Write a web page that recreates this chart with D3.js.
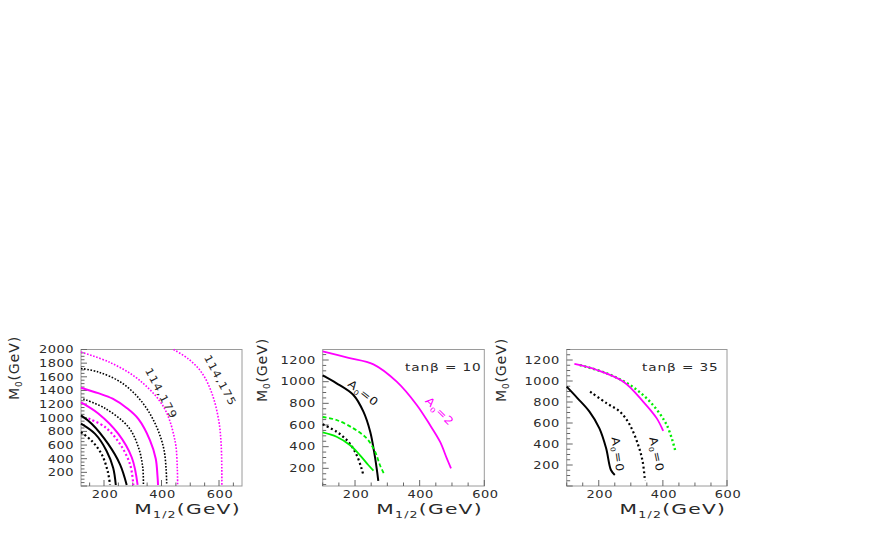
<!DOCTYPE html>
<html><head><meta charset="utf-8">
<script src="https://cdn.jsdelivr.net/npm/d3@7"></script>
<style>body{margin:0;background:#fff}svg{display:block}text{font-family:"DejaVu Sans",sans-serif;fill:#2a2a2a}</style>
</head><body><svg id="c" width="872" height="545"></svg>
<script>
// ---------- data ----------
const xTicks = [200, 400, 600];
const yTicks1 = [200,400,600,800,1000,1200,1400,1600,1800,2000];
const yTicks23 = [200,400,600,800,1000,1200];

// panel 1 contours [M1/2, M0]
const p1_a = [[120,788],[157,663],[192,464],[213,214],[221,15]];
const p1_b = [[120,913],[169,763],[209,514],[232,264],[241,15]];
const p1_c = [[120,1035],[157,913],[215,613],[256,314],[279,15]];
const p1_d = [[146,988],[204,863],[256,613],[291,314],[302,15]];
const p1_e = [[120,1225],[180,1062],[250,763],[297,414],[317,15]];
const p1_f = [[128,1275],[204,1137],[285,863],[320,564],[335,264],[337,15]];
const p1_g = [[120,1440],[180,1360],[230,1280],[280,1140],[320,980],[360,670],[380,400],[386,150],[388,15]];
const p1_h = [[120,1722],[180,1671],[262,1511],[331,1237],[378,913],[407,564],[416,250],[418,15]];
const p1_i = [[120,1962],[221,1810],[320,1561],[407,1162],[447,663],[455,250],[456,15]];
const p1_j = [[442,2000],[494,1860],[540,1661],[575,1362],[599,963],[608,564],[610,15]];

// panel 2 (tan beta = 10)
const p2_mag = [[100,1280],[180,1220],[257,1160],[329,1000],[391,785],[432,600],[463,446],[484,292],[497,200]];
const p2_blk = [[100,1058],[143,985],[195,877],[226,723],[247,538],[259,354],[267,200],[272,85]];
const p2_grnDash = [[100,674],[143,646],[195,569],[236,477],[262,354],[277,231],[291,140]];
const p2_blkDot = [[100,606],[143,538],[179,446],[205,323],[220,200],[226,135]];
const p2_grn = [[100,532],[143,492],[184,415],[215,323],[241,231],[257,180]];

// panel 3 (tan beta = 35)
const p3_mag = [[124,1162],[194,1105],[277,993],[339,802],[381,644],[401,524]];
const p3_grnDot = [[141,1152],[225,1073],[297,962],[360,802],[412,581],[438,343]];
const p3_blk = [[100,946],[134,835],[171,708],[202,549],[223,359],[238,152],[250,105]];
const p3_blkDot = [[173,898],[225,787],[266,708],[297,581],[323,390],[337,231],[344,50]];

// ---------- drawing ----------
const svg = d3.select("#c");
const MAG = "#ff00ff", GRN = "#00ee00", BLK = "#000";
const SX = 1.3;

const panels = [
  {l:81, r:242, t:349.5, b:486, xd:[120,680], yd:[0,2000], yt:yTicks1, title:{x:14, y:368}},
  {l:322.7, r:484.3, t:349.5, b:486, xd:[100,600], yd:[37,1297], yt:yTicks23, title:{x:262, y:370}},
  {l:566.7, r:727, t:349.5, b:486, xd:[100,600], yd:[0,1300], yt:yTicks23, title:{x:501, y:370}}
];

function wide(x, y, rot, sx) {
  return svg.append("g").attr("transform", `translate(${x},${y}) rotate(${rot||0}) scale(${sx||SX},1)`);
}
function subText(x, y, main, sub, rest, size, rot, sx, color) {
  const t = wide(x, y, rot, sx).append("text").attr("text-anchor", "middle")
    .attr("font-size", size).attr("letter-spacing", size*0.06);
  if (color) t.style("fill", color);
  t.append("tspan").text(main);
  t.append("tspan").attr("font-size", size*0.62).attr("dy", size*0.25).text(sub);
  t.append("tspan").attr("dy", -size*0.25).text(rest);
  return t;
}

panels.forEach(p => {
  p.x = d3.scaleLinear().domain(p.xd).range([p.l, p.r]);
  p.y = d3.scaleLinear().domain(p.yd).range([p.b, p.t]);
  const g = svg.append("g");
  g.append("rect").attr("x", p.l).attr("y", p.t).attr("width", p.r-p.l).attr("height", p.b-p.t)
    .attr("fill", "none").attr("stroke", "#9a9a9a").attr("stroke-width", 1);
  const xminor = d3.range(Math.ceil(p.xd[0]/50)*50, p.xd[1]+1, 50);
  g.selectAll(null).data(xminor).join("line")
    .attr("x1", d=>p.x(d)).attr("x2", d=>p.x(d))
    .attr("y1", p.b).attr("y2", d => p.b - (d%200===0 ? 6 : 3.5))
    .attr("stroke", "#666");
  const yminor = d3.range(Math.ceil(p.yd[0]/50)*50, p.yd[1]+1, 50);
  g.selectAll(null).data(yminor).join("line")
    .attr("y1", d=>p.y(d)).attr("y2", d=>p.y(d))
    .attr("x1", p.l).attr("x2", d => p.l + (d%200===0 ? 6 : 3.5))
    .attr("stroke", "#666");
  xTicks.forEach(d => {
    wide(p.x(d)+1, p.b+11.5).append("text").attr("text-anchor","middle")
      .attr("font-size", 10).attr("letter-spacing", 0.4).text(d);
  });
  p.yt.forEach(d => {
    wide(p.l-7, p.y(d)+3.8).append("text").attr("text-anchor","end")
      .attr("font-size", 10).attr("letter-spacing", 0.4).text(d);
  });
  subText((p.l+p.r)/2+26, 514, "M", "1/2", "(GeV)", 14.5, 0, 1.4);
  subText(p.title.x+5, p.title.y, "M", "0", "(GeV)", 13.5, -90, 1.05);
});

function draw(p, data, color, dash, width, curve) {
  const line = d3.line().x(d=>p.x(d[0])).y(d=>p.y(d[1])).curve(curve || d3.curveCatmullRom.alpha(0.5));
  svg.append("path").datum(data).attr("d", line).attr("fill","none")
    .attr("stroke", color).attr("stroke-width", width)
    .attr("stroke-dasharray", dash || null);
}
const P1 = panels[0], P2 = panels[1], P3 = panels[2];
const DOT = "1.6,1.6", DOTW = "2,2.6";

draw(P1, p1_a, BLK, "2,2.4", 2.2);
draw(P1, p1_b, BLK, null, 2);
draw(P1, p1_c, BLK, null, 2);
draw(P1, p1_d, MAG, "2,2.4", 2.2);
draw(P1, p1_e, MAG, null, 2);
draw(P1, p1_f, BLK, DOT, 1.6);
draw(P1, p1_g, MAG, null, 2);
draw(P1, p1_h, BLK, DOT, 1.6);
draw(P1, p1_i, MAG, DOT, 1.6);
draw(P1, p1_j, MAG, DOT, 1.6);

draw(P2, p2_mag, MAG, null, 1.8);
draw(P2, p2_blk, BLK, null, 2);
draw(P2, p2_grnDash, GRN, "4,2.5", 1.8);
draw(P2, p2_blkDot, BLK, DOTW, 2.2);
draw(P2, p2_grn, GRN, null, 1.8);

draw(P3, p3_grnDot, GRN, DOTW, 2.4);
draw(P3, p3_mag, MAG, null, 1.8);
draw(P3, p3_blk, BLK, null, 2);
draw(P3, p3_blkDot, BLK, DOTW, 2.2);

// ---------- labels ----------
function label(x, y, txt, rot) {
  svg.append("g").attr("transform", `translate(${x},${y}) rotate(${rot}) scale(1.15,1)`)
    .append("text").attr("text-anchor","middle").attr("font-size", 10.5)
    .attr("letter-spacing", 0.8).text(txt);
}
label(217, 382, "114,175", 62);
label(158, 395, "114,179", 62);

subText(361, 396, "A", "0", "=0", 11, 38, 1.15, "#111");
subText(437, 414, "A", "0", "=2", 11, 45, 1.15, MAG);
subText(614, 455, "A", "0", "=0", 11, 82, 1.15, "#111");
subText(653, 455, "A", "0", "=0", 11, 78, 1.15, "#111");

function tanLabel(x, y, val) {
  wide(x, y, 0, 1.3).append("text").attr("font-size", 10.5).attr("letter-spacing", 0.7)
    .text("tan\u03b2 = " + val);
}
tanLabel(405, 371, "10");
tanLabel(642, 371, "35");
</script></body></html>
